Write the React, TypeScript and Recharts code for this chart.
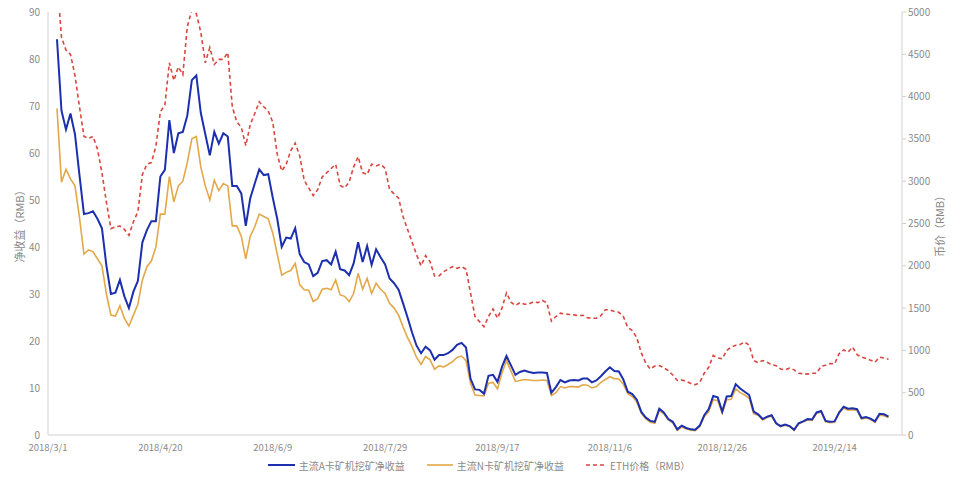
import React from 'react';
import { LineChart, Line, XAxis, YAxis, Legend } from 'recharts';

// Day offsets from 2018/3/1 (every second day)
const days = [
  4, 6, 8, 10, 12, 14, 16, 18, 20, 22,
  24, 26, 28, 30, 32, 34, 36, 38, 40, 42,
  44, 46, 48, 50, 52, 54, 56, 58, 60, 62,
  64, 66, 68, 70, 72, 74, 76, 78, 80, 82,
  84, 86, 88, 90, 92, 94, 96, 98, 100, 102,
  104, 106, 108, 110, 112, 114, 116, 118, 120, 122,
  124, 126, 128, 130, 132, 134, 136, 138, 140, 142,
  144, 146, 148, 150, 152, 154, 156, 158, 160, 162,
  164, 166, 168, 170, 172, 174, 176, 178, 180, 182,
  184, 186, 188, 190, 192, 194, 196, 198, 200, 202,
  204, 206, 208, 210, 212, 214, 216, 218, 220, 222,
  224, 226, 228, 230, 232, 234, 236, 238, 240, 242,
  244, 246, 248, 250, 252, 254, 256, 258, 260, 262,
  264, 266, 268, 270, 272, 274, 276, 278, 280, 282,
  284, 286, 288, 290, 292, 294, 296, 298, 300, 302,
  304, 306, 308, 310, 312, 314, 316, 318, 320, 322,
  324, 326, 328, 330, 332, 334, 336, 338, 340, 342,
  344, 346, 348, 350, 352, 354, 356, 358, 360, 362,
  364, 366, 368, 370, 372, 374,
];

// 主流A卡矿机挖矿净收益 (RMB)
const aCardProfit = [
  84.2, 69, 65, 68.4, 64, 55.3, 47, 47.2, 47.6, 46,
  44, 36, 30, 30.3, 33, 29.5, 27, 30.5, 32.8, 41,
  43.6, 45.5, 45.5, 55, 56.4, 67, 60, 64.2, 64.5, 68,
  75.5, 76.5, 68.5, 64, 59.5, 64.5, 62, 64.2, 63.5, 53,
  53, 51.4, 44.5, 50.4, 53.5, 56.5, 55.3, 55.5, 50.5, 46,
  40, 42, 41.8, 44, 38.5, 36.8, 36.3, 33.8, 34.5, 37,
  37.2, 36.3, 39, 35.3, 35, 34, 36.5, 41, 36.8, 40.2,
  36.2, 39.5, 37.8, 36.3, 33.3, 32.3, 30.9, 28, 25, 21.8,
  19, 17.4, 18.8, 18, 16, 17, 17, 17.4, 18.1, 19.2,
  19.6, 18.6, 12, 9.7, 9.6, 8.8, 12.6, 12.8, 11.3, 14.5,
  16.8, 14.8, 12.8, 13.4, 13.7, 13.4, 13.2, 13.3, 13.3, 13.2,
  9, 10.2, 11.7, 11.2, 11.6, 11.7, 11.6, 12, 12, 11.2,
  11.6, 12.5, 13.5, 14.4, 13.6, 13.5, 11.8, 9.2, 8.7, 7.5,
  4.9, 3.7, 3, 2.8, 5.6, 4.8, 3.4, 2.8, 1.2, 2,
  1.5, 1.2, 1.1, 2, 4.2, 5.5, 8.3, 8, 5, 8.2,
  8.3, 10.8, 9.9, 9.2, 8.5, 5, 4.4, 3.4, 3.9, 4.2,
  2.5, 1.9, 2.2, 1.9, 1.1, 2.5, 2.9, 3.4, 3.3, 4.8,
  5.1, 3, 2.8, 2.9, 4.8, 6, 5.6, 5.7, 5.5, 3.6,
  3.8, 3.5, 2.9, 4.5, 4.4, 3.9,
];

// 主流N卡矿机挖矿净收益 (RMB)
const nCardProfit = [
  69.5, 53.8, 56.5, 54.5, 53, 46.3, 38.5, 39.4, 39, 37.5,
  36, 30, 25.5, 25.3, 27.5, 24.8, 23.2, 25.5, 27.8, 33,
  35.8, 37, 40, 47, 47, 55, 49.6, 53, 54, 58,
  63, 63.5, 57, 53, 50, 54.2, 52, 53.5, 53, 44.5,
  44.5, 42.3, 37.5, 42.3, 44.3, 47, 46.5, 46, 43, 38.5,
  34, 34.6, 35, 36.5, 32, 30.9, 30.8, 28.4, 29, 31,
  31.2, 30.9, 33, 29.8, 29.5, 28.4, 30.1, 34.4, 31, 33.3,
  30.1, 32.3, 31, 30.1, 28, 27, 25.5, 23, 20.7, 18.8,
  16.5, 15, 16.7, 16, 14, 14.7, 14.5, 15, 15.6, 16.5,
  16.8, 15.8, 11, 8.5, 8.4, 8.3, 11, 11.2, 9.8, 13.2,
  15.8, 13.6, 11.4, 11.6, 11.8, 11.7, 11.6, 11.6, 11.7, 11.6,
  8.4, 9, 10.3, 10, 10.3, 10.3, 10.2, 10.7, 10.6, 10,
  10.3, 11.2, 11.8, 12.4, 12, 11.9, 10.8, 8.8, 8.2, 7,
  4.6, 3.4, 2.7, 2.5, 5.2, 4.5, 3.2, 2.6, 1, 1.7,
  1.3, 1, 0.9, 1.8, 3.9, 5, 7.5, 7.3, 4.6, 7.5,
  7.6, 9.8, 9, 8.5, 7.8, 4.5, 4.2, 3.2, 3.7, 4,
  2.4, 1.8, 2.1, 1.8, 1, 2.4, 2.8, 3.2, 3.1, 4.6,
  4.9, 2.8, 2.6, 2.7, 4.6, 5.7, 5.3, 5.4, 5.2, 3.4,
  3.6, 3.3, 2.7, 4.2, 4.1, 3.7,
];

// ETH价格 (RMB)
const ethPrice = [
  5400, 4700, 4550, 4500, 4250, 3880, 3530, 3505, 3530, 3380,
  3100, 2750, 2440, 2460, 2470, 2430, 2360, 2520, 2640, 3080,
  3200, 3220, 3410, 3820, 3900, 4400, 4190, 4350, 4260, 4830,
  5020, 4980, 4760, 4400, 4580, 4380, 4440, 4440, 4520, 3880,
  3700, 3640, 3420, 3670, 3800, 3940, 3880, 3830, 3700, 3320,
  3120, 3200, 3360, 3450, 3300, 3010, 2920, 2830, 2900, 3050,
  3100, 3150, 3200, 2950, 2920, 2990, 3170, 3290, 3100, 3080,
  3200, 3180, 3200, 3150, 2900, 2850, 2800, 2580, 2430, 2280,
  2130, 2000, 2120, 2050, 1880, 1880, 1930, 1960, 1990, 1970,
  1990, 1960, 1680, 1400, 1340, 1280, 1400, 1490, 1380, 1500,
  1680, 1570, 1530, 1565, 1545, 1550, 1575, 1565, 1590, 1560,
  1345, 1400, 1440, 1430, 1425, 1420, 1410, 1415, 1385, 1380,
  1380, 1410, 1480, 1480, 1460, 1450, 1400, 1270, 1235, 1150,
  970, 850, 780, 815, 820, 795, 760, 710, 645, 650,
  635, 610, 595, 620, 730, 800, 940, 910, 900, 1000,
  1040, 1060, 1070, 1100, 1060, 880, 855, 880, 860, 830,
  820, 780, 770, 790, 770, 730, 725, 720, 730, 730,
  810, 825, 845, 840, 960, 1005, 980, 1040, 950, 920,
  905, 885, 860, 920, 910, 895,
];

const tickDays = [0, 50, 100, 150, 200, 250, 300, 350];
const tickLabels = ['2018/3/1', '2018/4/20', '2018/6/9', '2018/7/29', '2018/9/17', '2018/11/6', '2018/12/26', '2019/2/14'];
const leftTicks = [0, 10, 20, 30, 40, 50, 60, 70, 80, 90];
const rightTicks = [0, 500, 1000, 1500, 2000, 2500, 3000, 3500, 4000, 4500, 5000];

const seriesNames = ['主流A卡矿机挖矿净收益', '主流N卡矿机挖矿净收益', 'ETH价格（RMB）'];

const data = days.map((d, i) => ({
  day: d,
  a: aCardProfit[i],
  n: nCardProfit[i],
  eth: ethPrice[i],
}));

const FONT = '"Noto Sans CJK SC", "Noto Sans", sans-serif';
const TICK_COLOR = '#8a8a8a';
const AXIS_COLOR = '#d0d0d0';
const BLUE = '#1c2fae';
const ORANGE = '#e2a849';
const RED = '#d9463f';

const LegendContent = () => {
  const items = [
    { name: seriesNames[0], color: BLUE, dash: undefined, w: 27, sw: 2 },
    { name: seriesNames[1], color: ORANGE, dash: undefined, w: 26, sw: 1.6 },
    { name: seriesNames[2], color: RED, dash: '4 3', w: 20, sw: 1.6 },
  ];
  return (
    <div
      style={{
        display: 'flex',
        justifyContent: 'center',
        alignItems: 'center',
        height: 20,
        fontFamily: FONT,
        fontSize: 10,
        color: TICK_COLOR,
        paddingLeft: 6,
      }}
    >
      {items.map((it, i) => (
        <div key={i} style={{ display: 'flex', alignItems: 'center', marginRight: i < 2 ? 22 : 0 }}>
          <svg width={it.w} height={10} style={{ marginRight: 4 }}>
            <line x1={0} y1={5} x2={it.w} y2={5} stroke={it.color} strokeWidth={it.sw} strokeDasharray={it.dash} />
          </svg>
          <span>{it.name}</span>
        </div>
      ))}
    </div>
  );
};

export default function App() {
  return (
    <div style={{ position: 'absolute', left: 0, top: 0, width: 960, height: 480, background: '#fff' }}>
      <LineChart width={960} height={480} data={data} margin={{ top: 12, right: 8, bottom: 5, left: 0 }}>
        <XAxis
          dataKey="day"
          type="number"
          domain={[0, 380]}
          ticks={tickDays}
          interval={0}
          tickFormatter={(v: number) => tickLabels[tickDays.indexOf(v)]}
          tickLine={false}
          axisLine={{ stroke: AXIS_COLOR }}
          tick={{ fontSize: 9.5, fill: TICK_COLOR, fontFamily: FONT, dy: 1 }}
          height={20}
        />
        <YAxis
          yAxisId="left"
          domain={[0, 90]}
          ticks={leftTicks}
          interval={0}
          width={48}
          tickLine={false}
          axisLine={{ stroke: AXIS_COLOR }}
          tick={{ fontSize: 10, fill: TICK_COLOR, fontFamily: FONT }}
          label={{
            value: '净收益（RMB）',
            angle: -90,
            position: 'center',
            dx: -4,
            fill: TICK_COLOR,
            fontSize: 11,
            fontFamily: FONT,
          }}
        />
        <YAxis
          yAxisId="right"
          orientation="right"
          domain={[0, 5000]}
          ticks={rightTicks}
          interval={0}
          allowDataOverflow
          width={50}
          tickSize={4}
          tickLine={{ stroke: AXIS_COLOR }}
          axisLine={{ stroke: AXIS_COLOR }}
          tick={{ fontSize: 10, fill: TICK_COLOR, fontFamily: FONT }}
          label={{
            value: '币价（RMB）',
            angle: -90,
            position: 'center',
            dx: 13,
            fill: TICK_COLOR,
            fontSize: 11,
            fontFamily: FONT,
          }}
        />
        <Legend verticalAlign="bottom" content={<LegendContent />} />
        <Line
          yAxisId="left"
          dataKey="n"
          name={seriesNames[1]}
          stroke={ORANGE}
          strokeWidth={1.6}
          dot={false}
          type="linear"
          isAnimationActive={false}
        />
        <Line
          yAxisId="left"
          dataKey="a"
          name={seriesNames[0]}
          stroke={BLUE}
          strokeWidth={2}
          dot={false}
          type="linear"
          isAnimationActive={false}
        />
        <Line
          yAxisId="right"
          dataKey="eth"
          name={seriesNames[2]}
          stroke={RED}
          strokeWidth={1.6}
          strokeDasharray="4 3"
          dot={false}
          type="linear"
          isAnimationActive={false}
        />
      </LineChart>
    </div>
  );
}
